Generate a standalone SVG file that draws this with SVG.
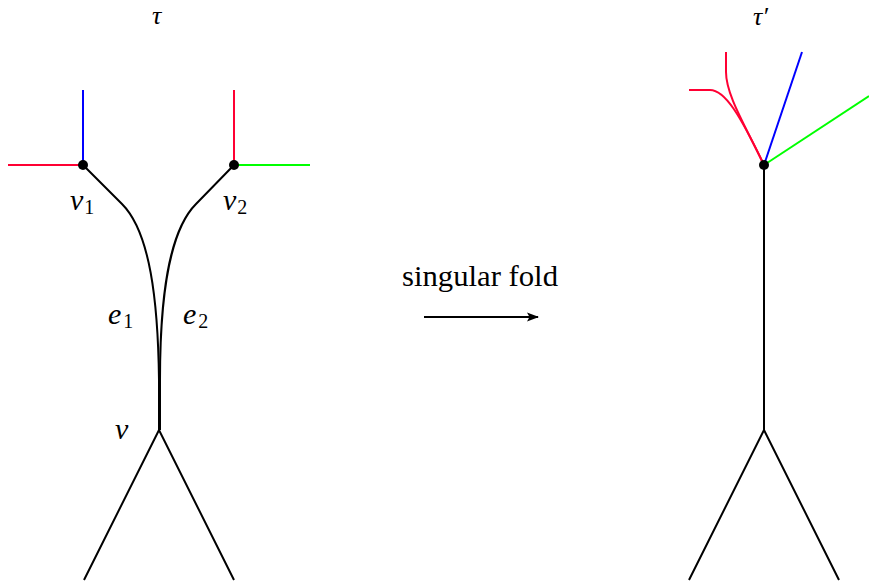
<svg xmlns="http://www.w3.org/2000/svg" width="869" height="584" viewBox="0 0 869 584">
<style>
.k{stroke:#000;stroke-width:2;fill:none}
.r{stroke:#ff0033;stroke-width:2;fill:none}
.b{stroke:#0000ff;stroke-width:2;fill:none}
.g{stroke:#00ff00;stroke-width:2;fill:none}
</style>
<defs>
<marker id="ah" markerWidth="12" markerHeight="10" refX="11" refY="5" orient="auto" markerUnits="userSpaceOnUse">
<path d="M0,0.5 L12,5 L0,9.5 L2.5,5 Z" fill="#000"/>
</marker>
</defs>
<g id="connectors">
<path class="k" d="M83,165 L122,204 C150,232 158,300 159,380 V430"/>
<path class="k" d="M234,165 L196,204 C168,232 160,300 160,380 V430"/>
<path class="k" d="M84,580 L159,430 L234,580"/>
<path class="b" d="M83,90 V165"/>
<path class="r" d="M8,165 H83"/>
<path class="r" d="M234,90 V165"/>
<path class="g" d="M234,165 H310"/>
<path class="k" d="M764,165 V430"/>
<path class="k" d="M689,580 L764,430 L839,580"/>
<path class="r" d="M726,52 V72 C726,95 745,125 764,165"/>
<path class="r" d="M689,90 H710 C725,90 740,115 764,165"/>
<path class="b" d="M764,165 L802,52"/>
<path class="g" d="M764,165 L869,96"/>
<path class="k" d="M424,317 H538" marker-end="url(#ah)"/>
</g>
<g font-family="'Liberation Serif', 'DejaVu Serif', serif" font-size="30" fill="#000">
<g id="v1"><circle cx="83" cy="165" r="5"/><text font-style="italic" x="70" y="210">v<tspan font-size="20" font-style="normal" dx="1" dy="4">1</tspan></text></g>
<g id="v2"><circle cx="234" cy="165" r="5"/><text font-style="italic" x="223" y="210">v<tspan font-size="20" font-style="normal" dx="1" dy="4">2</tspan></text></g>
<g id="vnode"><text font-style="italic" x="115" y="439">v</text></g>
<g id="e1"><text font-style="italic" x="108" y="324">e<tspan font-size="20" font-style="normal" dx="2" dy="4">1</tspan></text></g>
<g id="e2"><text font-style="italic" x="183" y="324">e<tspan font-size="20" font-style="normal" dx="2" dy="4">2</tspan></text></g>
<g id="tau"><text font-style="italic" font-size="26" x="152" y="24">τ</text></g>
<g id="tau-prime"><circle cx="764" cy="165" r="5"/><text font-style="italic" font-size="26" x="753" y="25">τ′</text></g>
<g id="label"><text x="480" y="286" text-anchor="middle" textLength="156" lengthAdjust="spacingAndGlyphs">singular fold</text></g>
</g>
</svg>
